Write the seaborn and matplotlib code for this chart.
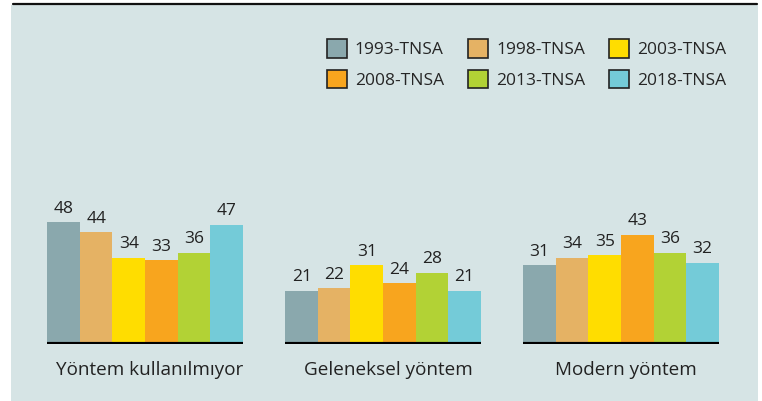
import numpy as np
import pandas as pd
import matplotlib.pyplot as plt
import matplotlib.transforms as mtransforms
from matplotlib.patches import Rectangle, Patch
import seaborn as sns

# chart data
categories = ["Yöntem kullanılmıyor", "Geleneksel yöntem", "Modern yöntem"]
surveys = ["1993-TNSA", "1998-TNSA", "2003-TNSA", "2008-TNSA", "2013-TNSA", "2018-TNSA"]
no_method = [48, 44, 34, 33, 36, 47]
traditional = [21, 22, 31, 24, 28, 21]
modern = [31, 34, 35, 43, 36, 32]
colors = ["#8AA8AD", "#E5B264", "#FFDD00", "#F8A51E", "#B2D235", "#74CBD8"]

df = pd.DataFrame({
    "category": np.repeat(categories, len(surveys)),
    "survey": surveys * len(categories),
    "value": no_method + traditional + modern,
})

sns.set_style("white")
plt.rcParams["font.family"] = ["Open Sans", "DejaVu Sans"]

fig = plt.figure(figsize=(7.62, 4.01), dpi=100)
fig.patch.set_facecolor("white")

# background panel and top rule
fig.add_artist(Rectangle((11 / 762, 0), 747 / 762, 396 / 401, transform=fig.transFigure,
                         facecolor="#D6E4E5", edgecolor="none", zorder=0))
fig.add_artist(plt.Line2D([13 / 762, 757 / 762], [397 / 401, 397 / 401], transform=fig.transFigure,
                          color="#111111", linewidth=1.6))

ax = fig.add_axes([26 / 762, 57 / 401, 714 / 762, 203 / 401])
ax.set_facecolor("none")

sns.barplot(data=df, x="category", y="value", hue="survey", palette=colors,
            width=0.82, gap=0, saturation=1, linewidth=0, legend=False, ax=ax)

for container in ax.containers:
    ax.bar_label(container, padding=4, fontsize=12.5, color="#222222")

# black baseline under each group
ax.hlines([0] * len(categories), np.arange(len(categories)) - 0.41,
          np.arange(len(categories)) + 0.41, color="black", linewidth=3, zorder=5)

ax.set_xlim(-0.5, 2.5)
ax.set_ylim(0, 80)
ax.set_xlabel("")
ax.set_ylabel("")
ax.set_yticks([])
ax.tick_params(axis="x", length=0, pad=12, labelsize=13.6, labelcolor="#222222")
offset = mtransforms.ScaledTranslation(5 / 100, 0, fig.dpi_scale_trans)
for lab in ax.get_xticklabels():
    lab.set_transform(lab.get_transform() + offset)
sns.despine(ax=ax, left=True, bottom=True)

# legend filled row by row (matplotlib fills columns first)
order = [0, 3, 1, 4, 2, 5]
handles = [Patch(facecolor=colors[i], edgecolor="#222222", linewidth=1.2) for i in order]
labels = [surveys[i] for i in order]
fig.legend(handles, labels, ncol=3, loc="upper left", bbox_to_anchor=(320 / 762, 1 - 32 / 401),
           frameon=False, fontsize=12.5, handlelength=1.15, handleheight=1.3,
           columnspacing=1.4, handletextpad=0.45, labelspacing=0.65, borderaxespad=0)

fig.savefig("out.png", dpi=100)
